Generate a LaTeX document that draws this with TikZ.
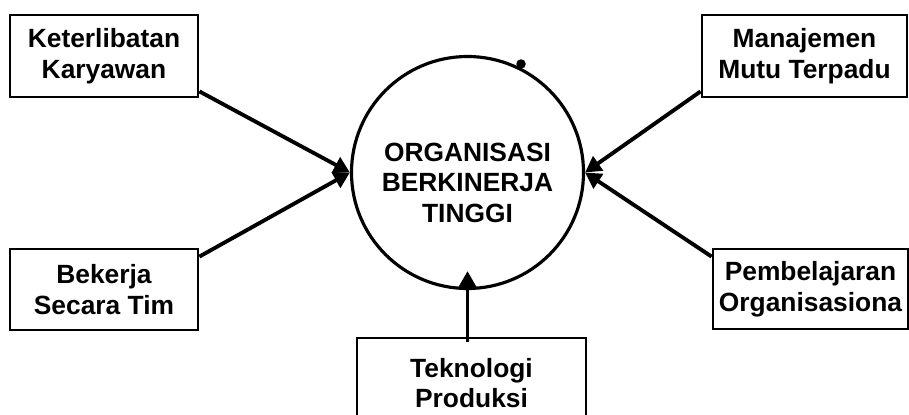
\documentclass[tikz,border=0pt]{standalone}
\usepackage{fontspec}
\setmainfont{Liberation Sans}
\usetikzlibrary{arrows.meta, positioning}
\tikzset{
  every picture/.style={font=\bfseries\fontsize{15pt}{17.4pt}\selectfont},
  box/.style={draw, line width=1.6pt, align=center, inner sep=2pt, minimum height=1.64cm},
  hub/.style={draw, circle, line width=1.8pt, minimum size=4.64cm, inner sep=0pt},
  arrow/.style={-{Triangle[length=0.32cm, width=0.34cm]}, line width=2.2pt},
}
\begin{document}
\begin{tikzpicture}[hubtext/.style={align=center, inner sep=0pt},
  blip/.style={circle, fill, minimum size=0.19cm, inner sep=0pt}]
  \clip (0,0) rectangle (18.18,-8.28);
  \node[hub] (org) at (9.35,-3.45) {};
  \node[hubtext] (orgtxt) at ([yshift=-0.2cm]org.center) {ORGANISASI\\BERKINERJA\\TINGGI};
  \node[blip] (mark) at (10.42,-1.28) {};
  \node[box, minimum width=3.76cm] (ket) at (2.08,-1.12) {Keterlibatan\\Karyawan};
  \node[box, minimum width=3.76cm, minimum height=1.62cm] (bek) at (2.08,-5.79) {Bekerja\\Secara Tim};
  \node[box, minimum width=4.10cm] (man) at (16.09,-1.12) {Manajemen\\Mutu Terpadu};
  \node[box, minimum width=3.90cm, minimum height=1.60cm] (pem) at (16.21,-5.78) {Pembelajaran\\Organisasiona};
  \node[box, minimum width=4.58cm, minimum height=1.8cm] (tek) at (9.43,-7.66) {Teknologi\\Produksi};
  \draw[arrow] ([yshift=0.14cm]ket.south east) -- (org.west);
  \draw[arrow] ([yshift=-0.18cm]bek.north east) -- (org.west);
  \draw[arrow] ([yshift=0.14cm]man.south west) -- (org.east);
  \draw[arrow] ([yshift=-0.18cm]pem.north west) -- (org.east);
  \draw[arrow] ([yshift=-0.1cm]tek.north -| org.south) -- ([yshift=0.38cm]org.south);
\end{tikzpicture}
\end{document}
